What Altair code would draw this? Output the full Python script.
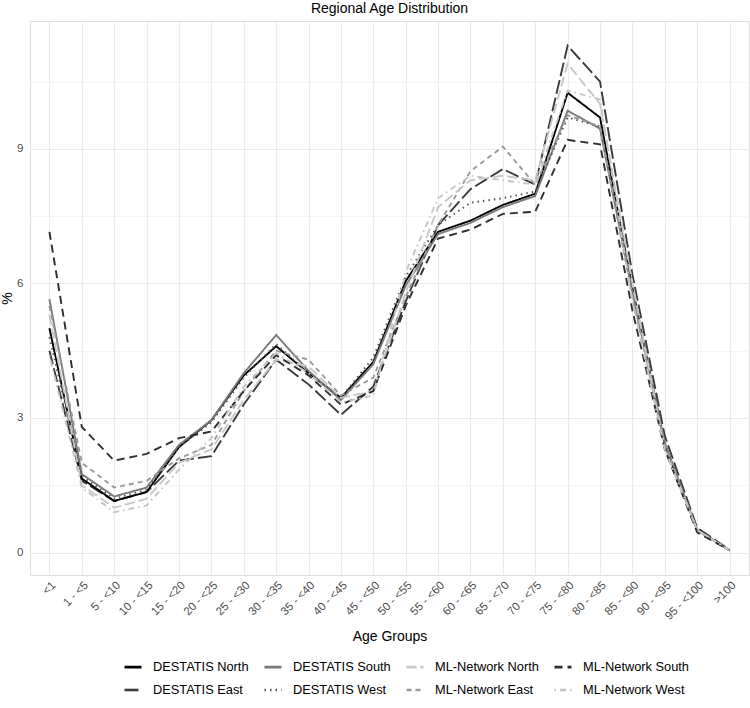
import altair as alt
import pandas as pd

age_groups = ["<1", "1 - <5", "5 - <10", "10 - <15", "15 - <20", "20 - <25", "25 - <30",
              "30 - <35", "35 - <40", "40 - <45", "45 - <50", "50 - <55", "55 - <60",
              "60 - <65", "65 - <70", "70 - <75", "75 - <80", "80 - <85", "85 - <90",
              "90 - <95", "95 - <100", ">100"]

destatis_east = [4.5, 1.6, 1.15, 1.35, 2.05, 2.15, 3.3, 4.3, 3.75, 3.07, 3.7, 5.6, 7.3, 8.1, 8.55, 8.2, 11.3, 10.5, 6.2, 2.6, 0.55, 0.06]
destatis_north = [5.0, 1.65, 1.15, 1.35, 2.35, 2.95, 3.95, 4.6, 4.0, 3.45, 4.25, 6.05, 7.15, 7.4, 7.75, 8.0, 10.25, 9.7, 5.9, 2.4, 0.5, 0.05]
destatis_south = [5.65, 1.75, 1.25, 1.45, 2.4, 2.95, 4.0, 4.85, 4.05, 3.4, 4.2, 5.95, 7.1, 7.35, 7.7, 7.95, 9.85, 9.45, 5.8, 2.45, 0.5, 0.05]
destatis_west = [4.8, 1.7, 1.2, 1.4, 2.35, 2.9, 3.9, 4.65, 4.0, 3.45, 4.35, 6.15, 7.3, 7.8, 7.9, 8.05, 9.7, 9.5, 5.9, 2.4, 0.5, 0.05]
ml_east = [5.5, 2.0, 1.45, 1.6, 2.1, 2.4, 3.6, 4.5, 4.3, 3.5, 3.9, 5.7, 7.3, 8.5, 9.05, 8.2, 9.75, 9.5, 5.7, 2.4, 0.5, 0.05]
ml_north = [5.3, 1.5, 1.0, 1.2, 2.0, 2.3, 3.4, 4.3, 4.15, 3.45, 3.6, 5.8, 7.7, 8.3, 8.4, 8.3, 10.9, 10.0, 6.0, 2.3, 0.5, 0.05]
ml_south = [7.15, 2.8, 2.05, 2.2, 2.55, 2.7, 3.6, 4.4, 3.95, 3.3, 3.6, 5.5, 7.0, 7.2, 7.55, 7.6, 9.2, 9.1, 5.4, 2.3, 0.45, 0.05]
ml_west = [4.4, 1.45, 0.9, 1.05, 1.85, 2.55, 3.7, 4.45, 4.0, 3.35, 3.5, 6.25, 7.9, 8.4, 8.3, 8.2, 10.3, 10.1, 5.6, 2.3, 0.5, 0.05]

series = {
    "DESTATIS East": destatis_east,
    "DESTATIS North": destatis_north,
    "DESTATIS South": destatis_south,
    "DESTATIS West": destatis_west,
    "ML-Network East": ml_east,
    "ML-Network North": ml_north,
    "ML-Network South": ml_south,
    "ML-Network West": ml_west,
}

legend_order = ["DESTATIS North", "DESTATIS South", "ML-Network North", "ML-Network South",
                "DESTATIS East", "DESTATIS West", "ML-Network East", "ML-Network West"]
colors = ["#000000", "#7a7a7a", "#c8c8c8", "#2e2e2e",
          "#3a3a3a", "#555555", "#9a9a9a", "#c4c4c4"]
dashes = [[1, 0], [1, 0], [10, 4], [8, 5],
          [14, 4], [1.5, 4], [5, 4], [1.5, 4, 6, 4]]

rows = []
for name, vals in series.items():
    for g, v in zip(age_groups, vals):
        rows.append({"series": name, "age": g, "value": v})
df = pd.DataFrame(rows)

legend = alt.Legend(
    title=None, orient="none", direction="horizontal", columns=4,
    legendX=93, legendY=636, symbolType="stroke", symbolSize=289,
    symbolStrokeWidth=2.6, labelFontSize=12.8, labelFont="Liberation Sans",
    labelColor="#000000", labelOffset=10, columnPadding=10, rowPadding=6,
    gridAlign="each", labelLimit=300,
)

chart = alt.Chart(df).mark_line(strokeWidth=1.9).encode(
    x=alt.X("age:N", sort=age_groups, title="Age Groups",
            scale=alt.Scale(type="point", padding=0.6),
            axis=alt.Axis(labelAngle=-45, labelAlign="right", labelBaseline="top",
                          labelFontSize=11.5, labelColor="#4D4D4D", labelFont="Liberation Sans",
                          ticks=False, tickSize=0, domain=False, labelPadding=4,
                          grid=True, gridColor="#EBEBEB", gridWidth=1.1,
                          titleFontSize=14, titleFont="Liberation Sans", titleFontWeight="normal",
                          titleColor="#000000", titlePadding=8)),
    y=alt.Y("value:Q", title="%",
            scale=alt.Scale(domain=[-0.5, 11.85], nice=False, zero=False),
            axis=alt.Axis(values=[0, 1.5, 3, 4.5, 6, 7.5, 9, 10.5],
                          labelExpr="datum.value % 3 === 0 ? datum.label : ''",
                          labelFontSize=11.5, labelColor="#4D4D4D", labelFont="Liberation Sans",
                          ticks=False, tickSize=0, domain=False, labelPadding=7,
                          grid=True, gridColor="#EBEBEB",
                          gridWidth={"condition": {"test": "datum.value % 3 === 0", "value": 1.1}, "value": 0.55},
                          titleFontSize=14, titleFont="Liberation Sans", titleFontWeight="normal",
                          titleColor="#000000", titlePadding=2)),
    color=alt.Color("series:N", scale=alt.Scale(domain=legend_order, range=colors), legend=legend),
    strokeDash=alt.StrokeDash("series:N", scale=alt.Scale(domain=legend_order, range=dashes), legend=legend),
    order=alt.Order("series:N"),
).properties(
    width=719, height=554,
    title=alt.TitleParams("Regional Age Distribution", fontSize=14, font="Liberation Sans",
                          fontWeight="normal", color="#000000", anchor="middle", offset=5),
    autosize=alt.AutoSizeParams(type="none"),
    padding={"left": 30, "top": 21, "right": 1, "bottom": 133},
).configure_view(stroke=None).configure(background="white")

chart.save("out.html", embed_options={"renderer": "svg", "actions": False})
